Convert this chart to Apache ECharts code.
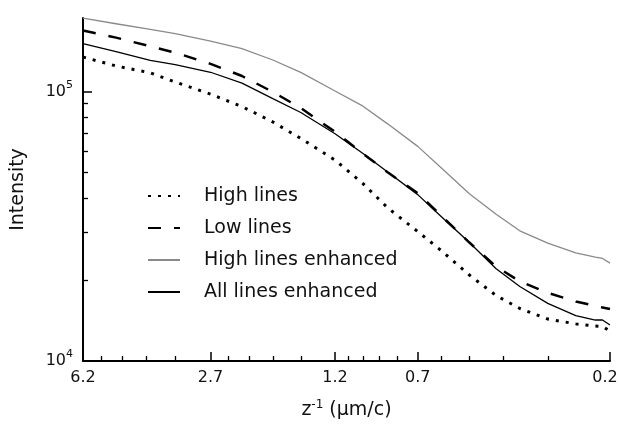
<!DOCTYPE html>
<html>
<head>
<meta charset="utf-8">
<script src="https://cdn.jsdelivr.net/npm/echarts@6/dist/echarts.min.js"></script>
<style>
  html, body { margin: 0; padding: 0; background: #fff; }
  #chart { width: 619px; height: 425px; }
</style>
</head>
<body>
<div id="chart"></div>
<script>
// z^-1 (um/c) sample positions
const zInv = [6.2, 5, 4, 3.4, 2.7, 2.2, 1.8, 1.5, 1.2, 1.0, 0.85, 0.7, 0.6, 0.5, 0.42, 0.36, 0.3, 0.25, 0.22, 0.21, 0.2];

// intensities per series
const highLines = [134000, 124200, 117100, 108300, 97600, 87800, 77000, 66900, 55600, 45500, 36900, 30200, 25650, 20830, 17480, 15660, 14310, 13730, 13480, 13430, 12900];
const lowLines = [168200, 158200, 146900, 139200, 126400, 114000, 99500, 86700, 70800, 58700, 50000, 41900, 34500, 27500, 22400, 19730, 17890, 16630, 16000, 15800, 15580];
const highLinesEnh = [186800, 178100, 169700, 163800, 153600, 143900, 130700, 117600, 100300, 88100, 75600, 62500, 52000, 41700, 35000, 30400, 27350, 25180, 24260, 24000, 23070];
const allLinesEnh = [150200, 140300, 130200, 125700, 117700, 107200, 94000, 83500, 69600, 58800, 50100, 41400, 34300, 27500, 22000, 18900, 16350, 14740, 14190, 14190, 13600];

// axis ticks
const xMajor = [6.2, 2.7, 1.2, 0.7, 0.2];
const xMinor = [5.5, 4.8, 4.1, 3.4, 2.4, 2.1, 1.8, 1.5, 1.1, 1.0, 0.9, 0.8, 0.6, 0.5, 0.4, 0.3];
const yMajor = [1e4, 1e5];
const yMinor = [2e4, 3e4, 4e4, 5e4, 6e4, 7e4, 8e4, 9e4];

const FONT = 'DejaVu Sans';

// both axes are logarithmic; x is ln(z^-1) reversed, y is log10(intensity)
const xMin = Math.log(0.2), xMax = Math.log(6.2);
const yMin = 4, yMax = 5.272;

function toPoints(vals) {
    return zInv.map((z, i) => [Math.log(z), Math.log10(vals[i])]);
}

const chart = echarts.init(document.getElementById('chart'));

const xBase = {
    type: 'value',
    min: xMin,
    max: xMax,
    inverse: true,
    position: 'bottom',
    splitLine: { show: false },
    axisLine: { onZero: false }
};
const yBase = {
    type: 'value',
    min: yMin,
    max: yMax,
    position: 'left',
    splitLine: { show: false },
    axisLine: { onZero: false }
};

chart.setOption({
    animation: false,
    grid: { left: 83, right: 9, top: 18, bottom: 64, containLabel: false, outerBoundsMode: 'none' },
    xAxis: [
        Object.assign({}, xBase, {
            axisLine: { onZero: false, lineStyle: { color: '#000', width: 2 } },
            axisTick: {
                inside: true, length: 9,
                lineStyle: { color: '#000', width: 1.5 },
                customValues: xMajor.map(Math.log)
            },
            axisLabel: {
                customValues: xMajor.map(Math.log),
                margin: 9,
                color: '#111',
                fontFamily: FONT,
                fontSize: 16,
                formatter: function (v) {
                    const s = Math.exp(v).toFixed(1);
                    return s === '0.2' ? '{r|' + s + '}' : s;
                },
                rich: { r: { fontFamily: FONT, fontSize: 16, color: '#111', padding: [0, 10, 0, 0] } }
            },
            name: 'z{sup|-1} (μm/c)',
            nameLocation: 'middle',
            nameGap: 38,
            nameTextStyle: {
                fontFamily: FONT, fontSize: 19, color: '#111',
                rich: { sup: { fontFamily: FONT, fontSize: 12, color: '#111', verticalAlign: 'top', lineHeight: 22 } }
            }
        }),
        Object.assign({}, xBase, {
            axisLine: { show: false, onZero: false },
            axisTick: {
                inside: true, length: 5,
                lineStyle: { color: '#000', width: 1.3 },
                customValues: xMinor.map(Math.log)
            },
            axisLabel: { show: false }
        })
    ],
    yAxis: [
        Object.assign({}, yBase, {
            axisLine: { onZero: false, lineStyle: { color: '#000', width: 2 } },
            axisTick: {
                inside: true, length: 9,
                lineStyle: { color: '#000', width: 1.5 },
                customValues: yMajor.map(Math.log10)
            },
            axisLabel: {
                customValues: yMajor.map(Math.log10),
                margin: 10,
                color: '#111',
                fontFamily: FONT,
                fontSize: 16,
                lineHeight: 24,
                formatter: function (v) {
                    return '10{s|' + Math.round(v) + '}';
                },
                rich: { s: { fontFamily: FONT, fontSize: 11, color: '#111', verticalAlign: 'top', lineHeight: 24 } }
            },
            name: 'Intensity',
            nameLocation: 'middle',
            nameGap: 55,
            nameTextStyle: { fontFamily: FONT, fontSize: 19, color: '#111' }
        }),
        Object.assign({}, yBase, {
            axisLine: { show: false, onZero: false },
            axisTick: {
                inside: true, length: 5,
                lineStyle: { color: '#000', width: 1.3 },
                customValues: yMinor.map(Math.log10)
            },
            axisLabel: { show: false }
        })
    ],
    legend: {
        orient: 'vertical',
        left: 147,
        top: 186,
        padding: 0,
        itemWidth: 32,
        itemHeight: 20,
        itemGap: 12,
        itemStyle: { opacity: 0 },
        textStyle: { fontFamily: FONT, fontSize: 19, color: '#111', lineHeight: 20, padding: [0, 0, 0, 19] },
        data: ['High lines', 'Low lines', 'High lines enhanced', 'All lines enhanced']
    },
    series: [
        {
            name: 'High lines', type: 'line', symbol: 'none',
            data: toPoints(highLines),
            lineStyle: { color: '#000', width: 3, type: [3, 7], cap: 'butt' },
            itemStyle: { color: '#000' }
        },
        {
            name: 'Low lines', type: 'line', symbol: 'none',
            data: toPoints(lowLines),
            lineStyle: { color: '#000', width: 2.5, type: [13, 13] },
            itemStyle: { color: '#000' }
        },
        {
            name: 'High lines enhanced', type: 'line', symbol: 'none',
            data: toPoints(highLinesEnh),
            lineStyle: { color: '#8a8a8a', width: 1.3 },
            itemStyle: { color: '#8a8a8a' }
        },
        {
            name: 'All lines enhanced', type: 'line', symbol: 'none',
            data: toPoints(allLinesEnh),
            lineStyle: { color: '#000', width: 1.3 },
            itemStyle: { color: '#000' }
        }
    ]
});
</script>
</body>
</html>
